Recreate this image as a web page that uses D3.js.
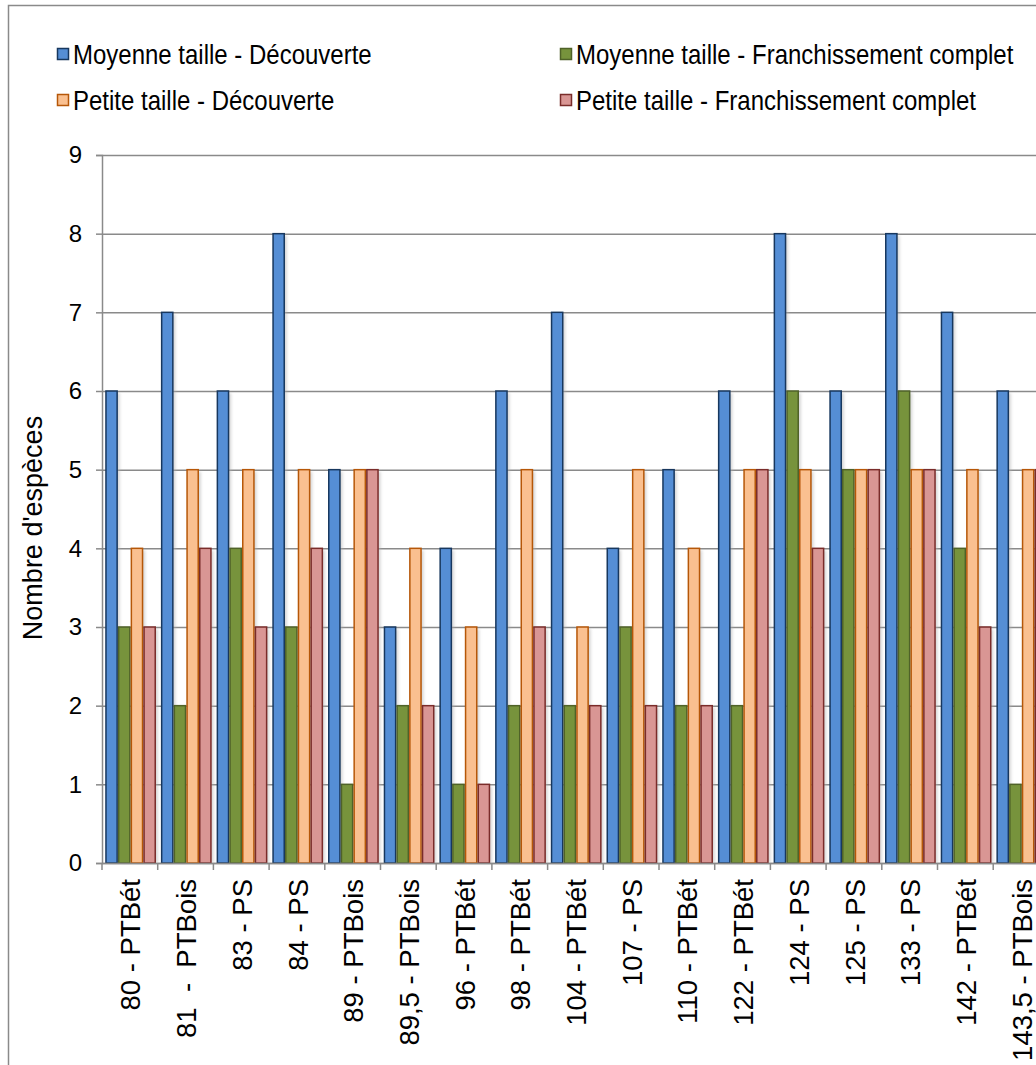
<!DOCTYPE html>
<html>
<head>
<meta charset="utf-8">
<script src="https://cdn.jsdelivr.net/npm/d3@7"></script>
<style>
  html, body { margin: 0; padding: 0; background: #fff; }
  svg { display: block; font-family: "Liberation Sans", Arial, sans-serif; }
</style>
</head>
<body>
<svg id="chart" width="1036" height="1065"></svg>
<script>
// Sites (distance - ouvrage)
const categories = [
  "80 - PTBét", "81  -  PTBois", "83 - PS", "84 - PS", "89 - PTBois",
  "89,5 - PTBois", "96 - PTBét", "98 - PTBét", "104 - PTBét", "107 - PS",
  "110 - PTBét", "122 - PTBét", "124 - PS", "125 - PS", "133 - PS",
  "142 - PTBét", "143,5 - PTBois"
];

const seriesNames = [
  "Moyenne taille - Découverte",
  "Moyenne taille - Franchissement complet",
  "Petite taille - Découverte",
  "Petite taille - Franchissement complet"
];

const moyenneDecouverte    = [6, 7, 6, 8, 5, 3, 4, 6, 7, 4, 5, 6, 8, 6, 8, 7, 6];
const moyenneFranchissement = [3, 2, 4, 3, 1, 2, 1, 2, 2, 3, 2, 2, 6, 5, 6, 4, 1];
const petiteDecouverte     = [4, 5, 5, 5, 5, 4, 3, 5, 3, 5, 4, 5, 5, 5, 5, 5, 5];
const petiteFranchissement = [3, 4, 3, 4, 5, 2, 1, 3, 2, 2, 2, 5, 4, 5, 5, 3, 5];

const yTicks = [0, 1, 2, 3, 4, 5, 6, 7, 8, 9];

const seriesValues = [moyenneDecouverte, moyenneFranchissement, petiteDecouverte, petiteFranchissement];
const fills   = ["#558ed5", "#77933c", "#fac090", "#d99694"];
const strokes = ["#17375e", "#4f6228", "#b65708", "#7a2c2a"];

const svg = d3.select("#chart");

// Outer chart frame (runs past the right and bottom edges)
svg.append("rect")
  .attr("x", 8.5).attr("y", 5.5)
  .attr("width", 1200).attr("height", 1200)
  .attr("fill", "#fff").attr("stroke", "#8a8a8a").attr("stroke-width", 1.5);

const plotLeft = 102, catStep = 55.7;
const x = d3.scaleBand()
  .domain(categories)
  .range([plotLeft, plotLeft + catStep * categories.length])
  .paddingInner(0).paddingOuter(0);

const xs = d3.scaleBand()
  .domain(d3.range(seriesNames.length))
  .range([3.2, x.bandwidth() - 1.7])
  .paddingInner(0.12).paddingOuter(0.06);

const y = d3.scaleLinear().domain([0, 9]).range([863, 155]);

const gridColor = "#8a8a8a";

// Horizontal gridlines with tick marks on the value axis
const yAxis = d3.axisLeft(y).tickValues(yTicks).tickSize(6).tickPadding(14).tickFormat(d3.format("d"));
const gy = svg.append("g").attr("transform", `translate(${plotLeft},0)`).call(yAxis);
gy.select(".domain").attr("stroke", gridColor).attr("stroke-width", 1.5);
gy.selectAll(".tick line").attr("stroke", gridColor).attr("stroke-width", 1.5);
gy.selectAll(".tick text")
  .attr("font-size", 24).attr("fill", "#000")
  .attr("font-family", "Liberation Sans, Arial, sans-serif");
gy.selectAll(".tick").append("line")
  .attr("x1", 0).attr("x2", 1200)
  .attr("stroke", gridColor).attr("stroke-width", 1.5);

// Soft shadow behind the bars
const defs = svg.append("defs");
const f = defs.append("filter").attr("id", "shadow").attr("x", "-50%").attr("y", "-5%").attr("width", "200%").attr("height", "110%");
f.append("feGaussianBlur").attr("stdDeviation", 1.6);

const groups = svg.append("g").selectAll("g")
  .data(categories)
  .join("g")
  .attr("transform", d => `translate(${x(d)},0)`);

const barData = (c, i) => seriesValues.map((vals, s) => ({ s, v: vals[i] }));

groups.each(function(c, i) {
  const g = d3.select(this);
  const data = barData(c, i);
  g.selectAll("rect.sh")
    .data(data)
    .join("rect")
    .attr("class", "sh")
    .attr("x", d => xs(d.s) + 2.5)
    .attr("y", d => y(d.v) + 2)
    .attr("width", xs.bandwidth())
    .attr("height", d => y(0) - y(d.v) - 2)
    .attr("fill", "#b0b0b0")
    .attr("opacity", 0.55)
    .attr("filter", "url(#shadow)");
});

groups.each(function(c, i) {
  const g = d3.select(this);
  const data = barData(c, i);
  g.selectAll("rect.bar")
    .data(data)
    .join("rect")
    .attr("class", "bar")
    .attr("x", d => xs(d.s))
    .attr("y", d => y(d.v))
    .attr("width", xs.bandwidth())
    .attr("height", d => y(0) - y(d.v))
    .attr("fill", d => fills[d.s])
    .attr("stroke", d => strokes[d.s])
    .attr("stroke-width", 1.5);
});

// Category axis
const xAxis = d3.axisBottom(x).tickSize(0).tickSizeOuter(0);
const gx = svg.append("g").attr("transform", `translate(0,${y(0)})`).call(xAxis);
gx.select(".domain").attr("stroke", gridColor).attr("stroke-width", 1.5);
gx.selectAll(".tick text")
  .attr("font-size", 27.5).attr("fill", "#000")
  .attr("font-family", "Liberation Sans, Arial, sans-serif")
  .style("white-space", "pre")
  .attr("text-anchor", "end")
  .attr("dy", "0.35em")
  .attr("transform", "translate(1,16) rotate(-90)")
  .attr("x", 0).attr("y", 0);
// Boundary tick marks between categories
gx.selectAll("line.bound")
  .data(categories.concat([null]))
  .join("line")
  .attr("class", "bound")
  .attr("x1", (d, i) => plotLeft + i * x.step())
  .attr("x2", (d, i) => plotLeft + i * x.step())
  .attr("y1", 0).attr("y2", 7)
  .attr("stroke", gridColor).attr("stroke-width", 1.5);

// Value axis title
svg.append("text")
  .attr("transform", "translate(42,528) rotate(-90)")
  .attr("text-anchor", "middle")
  .attr("font-size", 27)
  .text("Nombre d'espèces");

// Legend
const legendPos = [[57, 48], [560, 48], [57, 94], [560, 94]];
const legendOrder = [0, 1, 2, 3];
const lg = svg.append("g").selectAll("g")
  .data(legendOrder)
  .join("g")
  .attr("transform", (d, i) => `translate(${legendPos[i][0]},${legendPos[i][1]})`);
lg.append("rect")
  .attr("x", 0.5).attr("y", 0.5).attr("width", 11).attr("height", 11)
  .attr("fill", d => fills[d]).attr("stroke", d => strokes[d]).attr("stroke-width", 1.5);
lg.append("text")
  .attr("transform", "translate(16,15.5) scale(1,1.12)")
  .attr("font-size", 24)
  .text(d => seriesNames[d]);
</script>
</body>
</html>
